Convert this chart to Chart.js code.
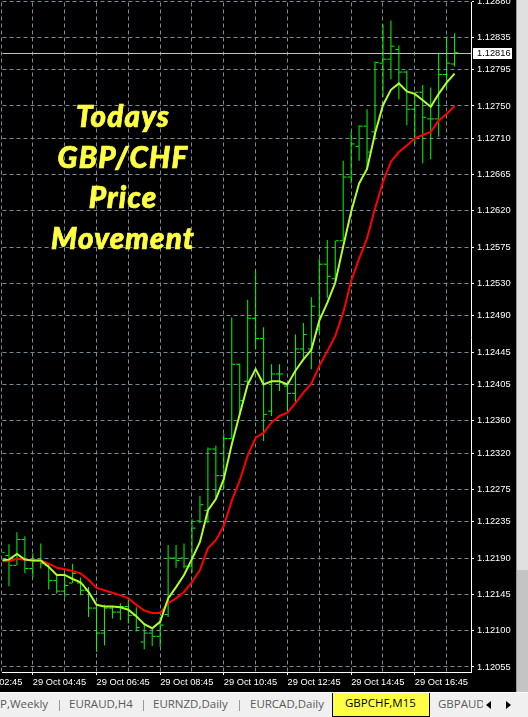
<!DOCTYPE html>
<html>
<head>
<meta charset="utf-8">
<script src="https://cdn.jsdelivr.net/npm/chart.js@4.4.1/dist/chart.umd.min.js"></script>
<style>
  html, body { margin: 0; padding: 0; background: #000; }
  body { width: 528px; height: 717px; position: relative; overflow: hidden; }
  #chartBox { position: absolute; left: 0; top: 0; width: 516px; height: 692px; background: #000; }
  #side { position: absolute; left: 516px; top: 0; width: 12px; height: 692px; background: #e0e0e0; border-left: 1px solid #9a9a9a; box-sizing: border-box; }
  #sideLow { position: absolute; left: 0; top: 570px; width: 100%; height: 122px; background: #c4c4c4; }
  .title { position: absolute; left: 23px; top: 96px; width: 200px; text-align: center; color: #ffff40;
           font-family: "Lato Black", "Lato Heavy", Lato, sans-serif; font-style: italic; font-weight: 900;
           font-size: 29.5px; line-height: 40.7px; letter-spacing: 1.2px; -webkit-text-stroke: 0.7px #ffff40; }
  #tabs { position: absolute; left: 0; top: 692px; width: 528px; height: 25px; background: #f0f0f0;
          border-top: 1px solid #fff; box-sizing: border-box; font: 11.5px "Open Sans", sans-serif; color: #5a5a5a; }
  .tab { position: absolute; top: 3px; line-height: 16px; white-space: nowrap; }
  .sep { position: absolute; top: 7px; width: 1px; height: 11px; background: #9a9a9a; }
  #active { position: absolute; left: 332px; top: 0; width: 98px; height: 24px; background: #ffff44;
            border: 1px solid #000; border-top: none; box-sizing: border-box; color: #000; }
  #clip { position: absolute; left: 438px; top: 3px; width: 45px; overflow: hidden; }
  .arr { position: absolute; top: 8px; width: 0; height: 0; border-top: 4px solid transparent; border-bottom: 4px solid transparent; }
</style>
</head>
<body>
<div id="chartBox"><canvas id="chart" width="516" height="692" style="width:516px;height:692px"></canvas></div>
<div class="title">Todays<br>GBP/CHF<br>Price<br>Movement</div>
<div id="side"><div id="sideLow"></div></div>
<div id="tabs">
  <span class="tab" style="left:0px">P,Weekly</span>
  <span class="sep" style="left:59px"></span>
  <span class="tab" style="left:69px">EURAUD,H4</span>
  <span class="sep" style="left:143px"></span>
  <span class="tab" style="left:153px">EURNZD,Daily</span>
  <span class="sep" style="left:239px"></span>
  <span class="tab" style="left:250px">EURCAD,Daily</span>
  <div id="active"><span class="tab" style="left:12px;top:2px">GBPCHF,M15</span></div>
  <div id="clip" class="tab">GBPAUD</div>
  <span class="arr" style="left:486px;border-right:5px solid #000"></span>
  <span class="arr" style="left:506px;border-left:5px solid #000"></span>
</div>
<script>
// price axis labels (right side)
const priceTicks = [1.12055, 1.12100, 1.12145, 1.12190, 1.12235, 1.12275, 1.12320, 1.12360, 1.12405, 1.12445,
  1.12490, 1.12530, 1.12575, 1.12620, 1.12665, 1.12710, 1.12750, 1.12795, 1.12835, 1.12880]
const currentPrice = 1.12816

// bar index 0 = 29 Oct 03:45, one bar every 15 min
const gridBars = [-4, 0, 4, 8, 12, 16, 20, 24, 28, 32, 36, 40, 44, 48, 52, 56]
const labelBars = [-4, 4, 12, 20, 28, 36, 44, 52]
const timeLabels = ["29 Oct 02:45", "29 Oct 04:45", "29 Oct 06:45", "29 Oct 08:45",
  "29 Oct 10:45", "29 Oct 12:45", "29 Oct 14:45", "29 Oct 16:45"]

const open = [1.12175, 1.12193, 1.12181, 1.12213, 1.12177, 1.12187, 1.12181, 1.12162, 1.12149, 1.12159,
  1.12159, 1.12150, 1.12128, 1.12097, 1.12128, 1.12123, 1.12130, 1.12119, 1.12086, 1.12097,
  1.12093, 1.12120, 1.12190, 1.12190, 1.12180, 1.12236, 1.12249, 1.12325, 1.12292, 1.12338,
  1.12430, 1.12409, 1.12487, 1.12462, 1.12372, 1.12418, 1.12403, 1.12394, 1.12449, 1.12449,
  1.12473, 1.12554, 1.12536, 1.12583, 1.12662, 1.12700, 1.12725, 1.12718, 1.12803, 1.12808,
  1.12820, 1.12792, 1.12746, 1.12767, 1.12734, 1.12734, 1.12789, 1.12802]
const high = [1.12212, 1.12207, 1.12222, 1.12217, 1.12196, 1.12208, 1.12183, 1.12169, 1.12171, 1.12183,
  1.12166, 1.12154, 1.12132, 1.12132, 1.12130, 1.12134, 1.12139, 1.12129, 1.12109, 1.12104,
  1.12117, 1.12206, 1.12206, 1.12208, 1.12238, 1.12267, 1.12327, 1.12329, 1.12344, 1.12488,
  1.12431, 1.12510, 1.12546, 1.12476, 1.12430, 1.12430, 1.12407, 1.12467, 1.12481, 1.12513,
  1.12561, 1.12584, 1.12583, 1.12682, 1.12718, 1.12726, 1.12746, 1.12805, 1.12851, 1.12856,
  1.12825, 1.12794, 1.12767, 1.12776, 1.12773, 1.12816, 1.12836, 1.12840]
const low = [1.12169, 1.12155, 1.12181, 1.12171, 1.12166, 1.12177, 1.12151, 1.12146, 1.12141, 1.12159,
  1.12144, 1.12117, 1.12074, 1.12082, 1.12115, 1.12113, 1.12109, 1.12099, 1.12077, 1.12081,
  1.12080, 1.12117, 1.12178, 1.12177, 1.12172, 1.12233, 1.12233, 1.12265, 1.12276, 1.12338,
  1.12368, 1.12406, 1.12449, 1.12335, 1.12366, 1.12397, 1.12370, 1.12382, 1.12438, 1.12424,
  1.12468, 1.12512, 1.12533, 1.12583, 1.12654, 1.12682, 1.12671, 1.12708, 1.12761, 1.12783,
  1.12758, 1.12726, 1.12703, 1.12679, 1.12684, 1.12712, 1.12771, 1.12799]
const close = [1.12197, 1.12181, 1.12213, 1.12177, 1.12187, 1.12183, 1.12162, 1.12149, 1.12156, 1.12171,
  1.12150, 1.12128, 1.12097, 1.12128, 1.12123, 1.12130, 1.12119, 1.12104, 1.12097, 1.12093,
  1.12107, 1.12190, 1.12187, 1.12180, 1.12227, 1.12256, 1.12325, 1.12292, 1.12338, 1.12430,
  1.12385, 1.12487, 1.12462, 1.12368, 1.12418, 1.12418, 1.12394, 1.12449, 1.12467, 1.12502,
  1.12554, 1.12539, 1.12583, 1.12662, 1.12703, 1.12725, 1.12693, 1.12804, 1.12808, 1.12824,
  1.12792, 1.12746, 1.12767, 1.12736, 1.12734, 1.12789, 1.12803, 1.12816]

// moving averages as seen on the chart
const maFast = [1.12187, 1.12188, 1.12195, 1.12188, 1.12187, 1.12187, 1.12179, 1.12169, 1.12169, 1.12164,
  1.12160, 1.12148, 1.12132, 1.12130, 1.12130, 1.12129, 1.12126, 1.12118, 1.12108, 1.12103,
  1.12111, 1.12140, 1.12154, 1.12169, 1.12189, 1.12210, 1.12249, 1.12263, 1.12288, 1.12331,
  1.12368, 1.12405, 1.12424, 1.12405, 1.12409, 1.12409, 1.12405, 1.12422, 1.12436, 1.12448,
  1.12484, 1.12506, 1.12531, 1.12576, 1.12619, 1.12654, 1.12672, 1.12716, 1.12751, 1.12770,
  1.12778, 1.12768, 1.12765, 1.12757, 1.12749, 1.12765, 1.12779, 1.12790]
const maSlow = [1.12186, 1.12186, 1.12189, 1.12188, 1.12187, 1.12187, 1.12183, 1.12178, 1.12176, 1.12174,
  1.12171, 1.12163, 1.12153, 1.12150, 1.12147, 1.12144, 1.12140, 1.12132, 1.12125, 1.12122,
  1.12122, 1.12134, 1.12140, 1.12148, 1.12160, 1.12175, 1.12202, 1.12212, 1.12230, 1.12261,
  1.12286, 1.12317, 1.12339, 1.12345, 1.12358, 1.12366, 1.12370, 1.12382, 1.12395, 1.12406,
  1.12428, 1.12446, 1.12465, 1.12494, 1.12533, 1.12561, 1.12586, 1.12623, 1.12656, 1.12681,
  1.12693, 1.12701, 1.12710, 1.12714, 1.12718, 1.12732, 1.12740, 1.12750]

const barGreen = "#00ff00"
const gridColor = "#778899"
const axisFont = { family: "'Liberation Sans', Arial, sans-serif", size: 9.3 }

// gray bid line behind the bars, white price box on the axis
const bidLine = {
  id: "bidLine",
  beforeDatasetsDraw(chart) {
    const { ctx, chartArea, scales } = chart
    const py = Math.round(scales.y.getPixelForValue(currentPrice)) + 0.5
    ctx.save()
    ctx.strokeStyle = "#c0c0c0"
    ctx.lineWidth = 1
    ctx.beginPath()
    ctx.moveTo(chartArea.left, py)
    ctx.lineTo(chartArea.right, py)
    ctx.stroke()
    ctx.restore()
  },
  afterDraw(chart) {
    const { ctx, chartArea, scales } = chart
    const py = Math.round(scales.y.getPixelForValue(currentPrice))
    ctx.save()
    ctx.fillStyle = "#fff"
    ctx.fillRect(chartArea.right + 2, py - 5, 39, 11)
    ctx.fillStyle = "#000"
    ctx.font = "9.3px 'Liberation Sans', Arial, sans-serif"
    ctx.textBaseline = "middle"
    ctx.fillText(currentPrice.toFixed(5), chartArea.right + 6, py + 0.5)
    ctx.restore()
  }
}

const barData = high.map((h, i) => ({ x: i, y: [low[i], h] }))
const openData = open.map((o, i) => ({ x: i - 0.25, y: o }))
const closeData = close.map((c, i) => ({ x: i + 0.25, y: c }))

const tickDataset = (data) => ({
  type: "line", data, showLine: false, order: 3,
  pointStyle: "line", pointRadius: 1.5, pointHoverRadius: 0, pointHitRadius: 0,
  pointBorderWidth: 1, pointBorderColor: barGreen, pointBackgroundColor: barGreen
})

new Chart(document.getElementById("chart"), {
  type: "line",
  data: {
    datasets: [
      { type: "bar", data: barData, backgroundColor: barGreen, borderWidth: 0,
        barThickness: 1, inflateAmount: 0, order: 4 },
      tickDataset(openData),
      tickDataset(closeData),
      { data: maSlow.map((v, i) => ({ x: i, y: v })), borderColor: "#ff0000", borderWidth: 2,
        pointRadius: 0, tension: 0, order: 1 },
      { data: maFast.map((v, i) => ({ x: i, y: v })), borderColor: "#adff2f", borderWidth: 2,
        pointRadius: 0, tension: 0, order: 0 }
    ]
  },
  options: {
    responsive: false,
    animation: false,
    devicePixelRatio: 1,
    layout: { padding: 0 },
    plugins: { legend: { display: false }, tooltip: { enabled: false } },
    scales: {
      x: {
        type: "linear", position: "bottom", min: 0.1875, max: 59.0625, offset: false,
        afterBuildTicks(scale) { scale.ticks = gridBars.map(v => ({ value: v })) },
        afterFit(scale) { scale.height = 20; scale.paddingLeft = 0; scale.paddingRight = 0 },
        ticks: {
          autoSkip: false, maxRotation: 0, minRotation: 0, align: "start", padding: 2,
          color: "#fff", font: axisFont,
          callback(v) { const k = labelBars.indexOf(v); return k < 0 ? "" : timeLabels[k] }
        },
        grid: {
          color: gridColor, lineWidth: 1, tickLength: 3, offset: false,
          tickColor: (c) => (c.tick && labelBars.includes(c.tick.value)) ? "#fff" : "rgba(0,0,0,0)"
        },
        border: { display: true, color: "#fff", width: 1, dash: [4, 3] }
      },
      y: {
        type: "linear", position: "right", min: 1.120488, max: 1.128782,
        afterBuildTicks(scale) { scale.ticks = priceTicks.map(v => ({ value: v })) },
        afterFit(scale) { scale.width = 45; scale.paddingTop = 0; scale.paddingBottom = 0 },
        ticks: { autoSkip: false, padding: 3, color: "#fff", font: axisFont, callback: v => v.toFixed(5) },
        grid: { color: gridColor, lineWidth: 1, tickLength: 3, tickColor: "#fff" },
        border: { display: true, color: "#fff", width: 1, dash: [4, 3] }
      }
    }
  },
  plugins: [bidLine]
})
</script>
</body>
</html>
